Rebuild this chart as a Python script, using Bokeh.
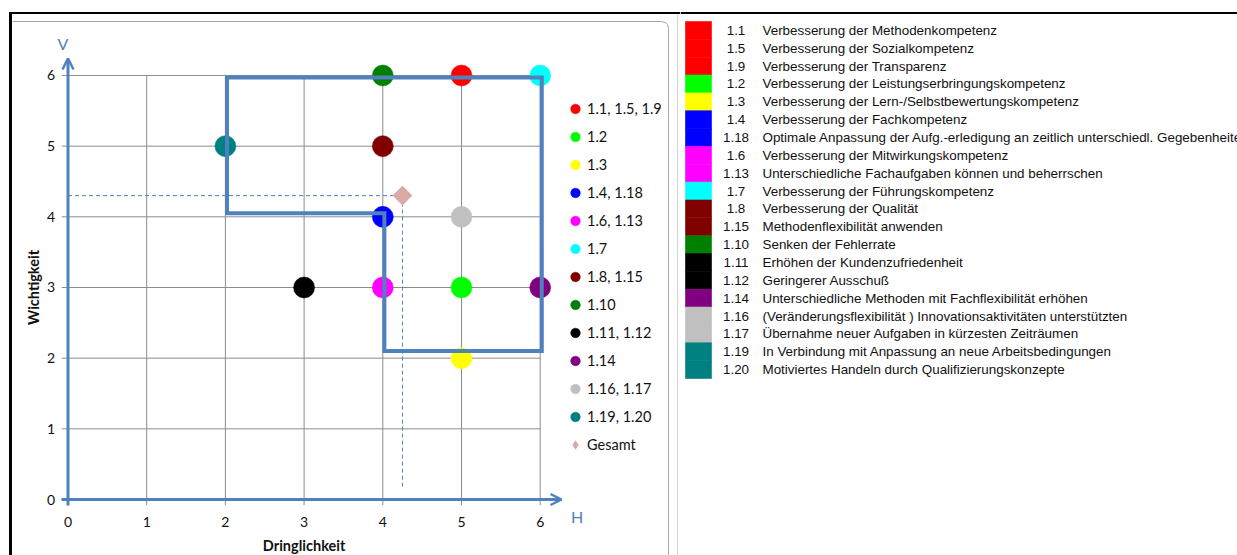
import numpy as np
from bokeh.plotting import figure
from bokeh.models import Range1d, Legend, LegendItem, Arrow, OpenHead
from bokeh.layouts import row
from bokeh.embed import file_html
from bokeh.resources import INLINE
from bokeh.core.properties import value

# ---------------- data ----------------
series_labels = ["1.1, 1.5, 1.9", "1.2", "1.3", "1.4, 1.18", "1.6, 1.13", "1.7",
                 "1.8, 1.15", "1.10", "1.11, 1.12", "1.14", "1.16, 1.17", "1.19, 1.20"]
series_colors = ["#FF0000", "#00FF00", "#FFFF00", "#0000FF", "#FF00FF", "#00FFFF",
                 "#800000", "#008000", "#000000", "#800080", "#C0C0C0", "#008080"]
series_dringlichkeit = [5, 5, 5, 4, 4, 6, 4, 4, 3, 6, 5, 2]
series_wichtigkeit = [6, 3, 2, 4, 3, 6, 5, 6, 3, 3, 4, 5]

gesamt_label = "Gesamt"
gesamt_dringlichkeit = [4.25]
gesamt_wichtigkeit = [4.3]
gesamt_drop_to = 0.17          # lower end of the dashed vertical guide

x_ticks = [0, 1, 2, 3, 4, 5, 6]
y_ticks = [0, 1, 2, 3, 4, 5, 6]
x_title = "Dringlichkeit"
y_title = "Wichtigkeit"
x_arrow_label = "H"
y_arrow_label = "V"

zone_x = [2.02, 6.02, 6.02, 4.02, 4.02, 2.02]
zone_y = [5.97, 5.97, 2.1, 2.1, 4.05, 4.05]

table_codes = ["1.1", "1.5", "1.9", "1.2", "1.3", "1.4", "1.18", "1.6", "1.13", "1.7",
               "1.8", "1.15", "1.10", "1.11", "1.12", "1.14", "1.16", "1.17", "1.19", "1.20"]
table_texts = [
    "Verbesserung der Methodenkompetenz",
    "Verbesserung der Sozialkompetenz",
    "Verbesserung der Transparenz",
    "Verbesserung der Leistungserbringungskompetenz",
    "Verbesserung der Lern-/Selbstbewertungskompetenz",
    "Verbesserung der Fachkompetenz",
    "Optimale Anpassung der Aufg.-erledigung an zeitlich unterschiedl. Gegebenheiten",
    "Verbesserung der Mitwirkungskompetenz",
    "Unterschiedliche Fachaufgaben können und beherrschen",
    "Verbesserung der Führungskompetenz",
    "Verbesserung der Qualität",
    "Methodenflexibilität anwenden",
    "Senken der Fehlerrate",
    "Erhöhen der Kundenzufriedenheit",
    "Geringerer Ausschuß",
    "Unterschiedliche Methoden mit Fachflexibilität erhöhen",
    "(Veränderungsflexibilität ) Innovationsaktivitäten unterstützten",
    "Übernahme neuer Aufgaben in kürzesten Zeiträumen",
    "In Verbindung mit Anpassung an neue Arbeitsbedingungen",
    "Motiviertes Handeln durch Qualifizierungskonzepte",
]
table_series = [0, 0, 0, 1, 2, 3, 3, 4, 4, 5, 6, 6, 7, 8, 8, 9, 10, 10, 11, 11]

# ---------------- styling / layout ----------------
BLUE = "#4F81BD"
GRID = "#8C8C8C"
GESAMT_COLOR = "#D9AAA8"
FONT = value("Lato")
TFONT = value("Liberation Sans")

W1, H = 680, 555
W2 = 557
# pixel anchors of the data frame (x=0, y=0) and pixels per unit
X0, SX = 67.5, 78.7
Y0, SY = 499.0, 70.67


def dx(px):
    return (px - X0) / SX


def dy(py):
    return (Y0 - py) / SY


p = figure(width=W1, height=H,
           x_range=Range1d(dx(0), dx(W1)), y_range=Range1d(dy(H), dy(0)),
           x_axis_type=None, y_axis_type=None, toolbar_location=None,
           output_backend="svg", min_border=0)
p.outline_line_color = None
p.background_fill_color = "white"
p.border_fill_color = "white"

# outer black frame and chart border
p.line([dx(9), dx(W1)], [dy(12.5), dy(12.5)], line_color="black", line_width=2)
p.line([dx(10), dx(10)], [dy(11.5), dy(H)], line_color="black", line_width=3)
p.line([dx(12), dx(661), dx(665), dx(667), dx(668), dx(668)],
       [dy(21), dy(21), dy(22.2), dy(24), dy(28), dy(H)],
       line_color="#A6A6A6", line_width=1)
p.line([dx(677), dx(677)], [dy(14), dy(H)], line_color="#D4D4D4", line_width=1)

# grid
ext = 0.08
p.segment(x0=[-ext] * len(y_ticks), y0=y_ticks, x1=[x_ticks[-1]] * len(y_ticks), y1=y_ticks,
          line_color=GRID, line_width=1)
p.segment(x0=x_ticks, y0=[-ext] * len(x_ticks), x1=x_ticks, y1=[y_ticks[-1]] * len(x_ticks),
          line_color=GRID, line_width=1)

# tick labels
p.text(x=x_ticks, y=[0] * len(x_ticks), text=[str(t) for t in x_ticks], y_offset=22,
       text_align="center", text_baseline="middle", text_font=FONT,
       text_font_size="14px", text_color="#111111")
p.text(x=[0] * len(y_ticks), y=y_ticks, text=[str(t) for t in y_ticks], x_offset=-13,
       text_align="right", text_baseline="middle", text_font=FONT,
       text_font_size="14px", text_color="#111111")

# axis titles
p.text(x=[3], y=[0], text=[x_title], y_offset=46, text_align="center",
       text_baseline="middle", text_font=FONT, text_font_style="bold",
       text_font_size="14.5px", text_color="#111111")
p.text(x=[0], y=[3], text=[y_title], x_offset=-35, angle=np.pi / 2, text_align="center",
       text_baseline="middle", text_font=FONT, text_font_style="bold",
       text_font_size="14.5px", text_color="#111111")

# dashed guides for the overall point
gx, gy = gesamt_dringlichkeit[0], gesamt_wichtigkeit[0]
p.segment(x0=[0, gx], y0=[gy, gy], x1=[gx, gx], y1=[gy, gesamt_drop_to],
          line_color=BLUE, line_width=1, line_dash="4 3")

# scatter points
renderers = []
for lab, col, xv, yv in zip(series_labels, series_colors, series_dringlichkeit, series_wichtigkeit):
    r = p.scatter(x=[xv], y=[yv], size=21, fill_color=col, line_color=col, line_width=0.5)
    renderers.append((lab, r))
# overall point: diamond (used by the legend) covered by a rotated square
rg = p.scatter(x=gesamt_dringlichkeit, y=gesamt_wichtigkeit, marker="diamond", size=19,
               fill_color=GESAMT_COLOR, line_color=None)
p.scatter(x=gesamt_dringlichkeit, y=gesamt_wichtigkeit, marker="square", angle=np.pi / 4,
          size=14, fill_color=GESAMT_COLOR, line_color=None)
renderers.append((gesamt_label, rg))

# priority zone outline
p.patch(zone_x, zone_y, fill_color=None, line_color=BLUE, line_width=4, line_join="miter")

# blue arrow axes
p.add_layout(Arrow(end=OpenHead(size=11, line_color=BLUE, line_width=2.5),
                   x_start=dx(61), y_start=0, x_end=dx(561), y_end=0,
                   line_color=BLUE, line_width=3))
p.add_layout(Arrow(end=OpenHead(size=11, line_color=BLUE, line_width=2.5),
                   x_start=0, y_start=dy(505), x_end=0, y_end=dy(58),
                   line_color=BLUE, line_width=3))
p.text(x=[dx(62.5)], y=[dy(42.5)], text=[y_arrow_label], text_align="center",
       text_baseline="middle", text_font=FONT, text_font_size="16px", text_color=BLUE)
p.text(x=[dx(576.5)], y=[dy(516)], text=[x_arrow_label], text_align="center",
       text_baseline="middle", text_font=FONT, text_font_size="16px", text_color=BLUE)

legend = Legend(items=[LegendItem(label=l, renderers=[r]) for l, r in renderers],
                location=(563, 98), orientation="vertical",
                glyph_width=24, glyph_height=25, label_height=25, spacing=3,
                padding=0, margin=0, label_standoff=0,
                border_line_color=None, background_fill_alpha=0,
                label_text_font="Lato", label_text_font_size="14.5px",
                label_text_color="#111111", label_text_baseline="middle")
p.add_layout(legend)

# ---------------- right: code table ----------------
ROW_H = 17.85
ROW0 = 29.9  # px of row 0 centre
rows = list(range(len(table_codes)))
row_colors = [series_colors[g] for g in table_series]

p2 = figure(width=W2, height=H,
            x_range=Range1d(0, W2),
            y_range=Range1d((H - ROW0) / ROW_H, -ROW0 / ROW_H),
            x_axis_type=None, y_axis_type=None, toolbar_location=None,
            output_backend="svg", min_border=0)
p2.outline_line_color = None
p2.background_fill_color = "white"
p2.border_fill_color = "white"

p2.line([0, W2], [(12.5 - ROW0) / ROW_H] * 2, line_color="black", line_width=2)
p2.quad(left=5, right=31, top=[r - 0.5 for r in rows], bottom=[r + 0.5 for r in rows],
        fill_color=row_colors, line_color=row_colors, line_width=0.6)
p2.text(x=[55.5] * len(rows), y=rows, text=table_codes, text_align="center",
        text_baseline="middle", text_font=TFONT, text_font_size="13.4px", text_color="#111111")
p2.text(x=[82] * len(rows), y=rows, text=table_texts, text_align="left",
        text_baseline="middle", text_font=TFONT, text_font_size="13.4px", text_color="#111111")

layout = row(p, p2)
open("out.html", "w").write(file_html(layout, INLINE))
